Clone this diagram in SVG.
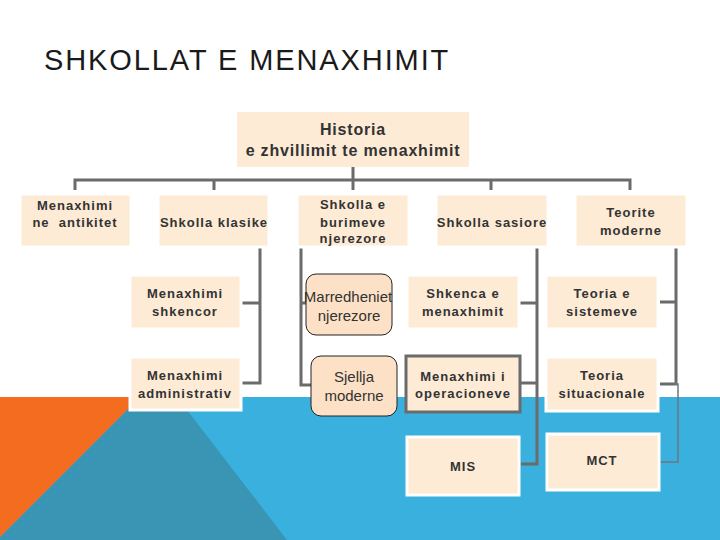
<svg xmlns="http://www.w3.org/2000/svg" width="720" height="540" viewBox="0 0 720 540">
<style>
.bx{fill:#FDEBD6;stroke:#FFFFFF;stroke-width:3}
.rb{fill:#FCE1C6;stroke:#222222;stroke-width:1}
.gb{fill:#FDEBD6;stroke:#6B6B6B;stroke-width:3}
.t{font-family:"Liberation Sans",Arial,sans-serif;font-weight:bold;font-size:13px;fill:#333333;text-anchor:middle;letter-spacing:1px}
.r{font-family:"Liberation Sans",Arial,sans-serif;font-size:15px;fill:#333333;text-anchor:middle}
.c{fill:none;stroke:#6B6B6B;stroke-width:3}
.thin{fill:none;stroke:#6B7580;stroke-width:1.5}
</style>
<rect x="0" y="0" width="720" height="540" fill="#FFFFFF"/>
<g id="background">
<rect x="0" y="397" width="720" height="143" fill="#3AB0DE"/>
<polygon points="140,397 177,397 287,540 0,540 0,537" fill="#3A94B3"/>
<polygon points="0,397 140,397 0,537" fill="#F36C1F"/>
</g>
<text x="44" y="70" font-family="'Liberation Sans',Arial,sans-serif" font-size="29" letter-spacing="1.9" fill="#1A1A1A">SHKOLLAT E MENAXHIMIT</text>
<g id="connectors">
<path class="c" d="M353,167 V190 M75,190 V180 H630 V190 M214,180 V190 M491,180 V190"/>
<path class="c" d="M260,247 V383 H241 M241,303 H260"/>
<path class="c" d="M301,247 V385 H311 M301,303 H306"/>
<path class="c" d="M537,247 V464 H521 M519,303 H537 M521,383 H537"/>
<path class="c" d="M676,247 V384 H660 M660,302 H676"/>
<path class="thin" d="M660,462 H678 V384 H674"/>
</g>
<g id="root">
<rect x="237" y="112" width="232" height="55" fill="#FDEBD6"/>
<text class="t" x="353" y="135" style="font-size:16px;letter-spacing:0.8px">Historia</text>
<text class="t" x="353" y="156" style="font-size:16px;letter-spacing:0.8px">e zhvillimit te menaxhimit</text>
</g>
<g id="n-antikitet">
<rect class="bx" x="20" y="194" width="111" height="53"/>
<text class="t" x="75" y="210">Menaxhimi</text>
<text class="t" x="75" y="227" xml:space="preserve">ne  antikitet</text>
</g>
<g id="n-klasike">
<rect class="bx" x="158" y="194" width="111" height="53"/>
<text class="t" x="214" y="227">Shkolla klasike</text>
</g>
<g id="n-burimeve">
<rect class="bx" x="297" y="194" width="112" height="53"/>
<text class="t" x="353" y="209">Shkolla e</text>
<text class="t" x="353" y="227">burimeve</text>
<text class="t" x="353" y="243">njerezore</text>
</g>
<g id="n-sasiore">
<rect class="bx" x="436" y="194" width="112" height="53"/>
<text class="t" x="492" y="227">Shkolla sasiore</text>
</g>
<g id="n-teorite">
<rect class="bx" x="575" y="194" width="112" height="53"/>
<text class="t" x="631" y="217">Teorite</text>
<text class="t" x="631" y="235">moderne</text>
</g>
<g id="n-shkencor">
<rect class="bx" x="130" y="275" width="111" height="54"/>
<text class="t" x="185" y="298">Menaxhimi</text>
<text class="t" x="185" y="316">shkencor</text>
</g>
<g id="n-administrativ">
<rect class="bx" x="130" y="357" width="111" height="53"/>
<text class="t" x="185" y="380">Menaxhimi</text>
<text class="t" x="185" y="398">administrativ</text>
</g>
<g id="n-marredheniet">
<rect class="rb" x="306" y="274" width="86" height="61" rx="10"/>
<text class="r" x="348" y="302">Marredheniet</text>
<text class="r" x="349" y="321">njerezore</text>
</g>
<g id="n-sjellja">
<rect class="rb" x="311" y="356" width="86" height="60" rx="10"/>
<text class="r" x="354" y="382">Sjellja</text>
<text class="r" x="354" y="401">moderne</text>
</g>
<g id="n-shkenca">
<rect class="bx" x="407" y="275" width="112" height="54"/>
<text class="t" x="463" y="298">Shkenca e</text>
<text class="t" x="463" y="316">menaxhimit</text>
</g>
<g id="n-operacioneve">
<rect class="gb" x="406" y="356" width="114" height="56"/>
<text class="t" x="463" y="381">Menaxhimi i</text>
<text class="t" x="463" y="398">operacioneve</text>
</g>
<g id="n-mis">
<rect class="bx" x="407" y="437" width="112" height="58"/>
<text class="t" x="463" y="471">MIS</text>
</g>
<g id="n-sistemeve">
<rect class="bx" x="546" y="275" width="112" height="54"/>
<text class="t" x="602" y="298">Teoria e</text>
<text class="t" x="602" y="316">sistemeve</text>
</g>
<g id="n-situacionale">
<rect class="bx" x="546" y="357" width="112" height="54"/>
<text class="t" x="602" y="380">Teoria</text>
<text class="t" x="602" y="398">situacionale</text>
</g>
<g id="n-mct">
<rect class="bx" x="547" y="434" width="112" height="56"/>
<text class="t" x="602" y="465">MCT</text>
</g>
</svg>
